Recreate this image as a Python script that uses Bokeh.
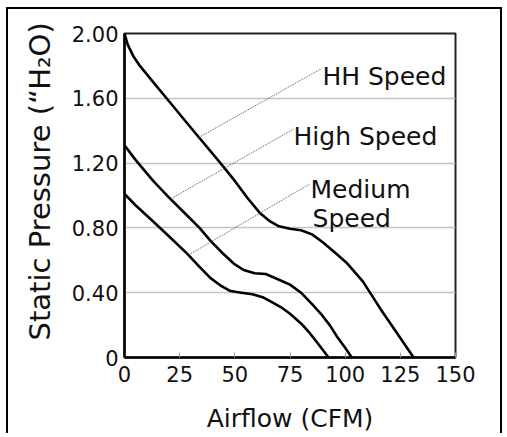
from bokeh.plotting import figure
from bokeh.models import Range1d, FixedTicker, Title
from bokeh.core.properties import value
from bokeh.embed import file_html
from bokeh.resources import INLINE

# ---- data ----
hh_x = [0, 1.5, 4, 7, 13, 20, 30, 43.5, 50, 56, 61.5, 66, 70, 75, 80, 85, 90, 96, 101, 108, 116, 124, 131]
hh_y = [2.00, 1.93, 1.86, 1.80, 1.70, 1.585, 1.42, 1.20, 1.09, 0.98, 0.89, 0.84, 0.81, 0.795, 0.785, 0.76, 0.71, 0.64, 0.58, 0.47, 0.30, 0.14, 0.00]

high_x = [0, 5, 13, 20, 28.5, 34, 39, 44, 49.5, 54, 59, 64, 70, 75, 80, 85, 89, 93, 96.5, 100, 103]
high_y = [1.31, 1.22, 1.09, 0.99, 0.875, 0.80, 0.72, 0.65, 0.58, 0.54, 0.52, 0.515, 0.48, 0.45, 0.40, 0.33, 0.27, 0.20, 0.125, 0.06, 0.00]

med_x = [0, 5, 13, 20, 28.5, 34, 39, 44, 48, 53, 58, 63, 67, 71, 75, 80, 84, 88, 92.5]
med_y = [1.01, 0.94, 0.84, 0.75, 0.64, 0.56, 0.49, 0.44, 0.41, 0.40, 0.39, 0.37, 0.34, 0.31, 0.27, 0.21, 0.15, 0.08, 0.00]

# annotation labels and leader lines
label_text = ["HH Speed", "High Speed", "Medium", "Speed"]
label_x = [89.7, 76.6, 84.3, 85.2]
label_y = [1.735, 1.366, 1.04, 0.855]

lead_x0 = [88.8, 76.6, 83.8]
lead_y0 = [1.78, 1.41, 1.07]
lead_x1 = [33.1, 20.8, 28.5]
lead_y1 = [1.354, 0.978, 0.628]

x_ticks = [0, 25, 50, 75, 100, 125, 150]
y_ticks = [0, 0.4, 0.8, 1.2, 1.6, 2.0]
y_tick_labels = ["0", "0.40", "0.80", "1.20", "1.60", "2.00"]

y_title = "Static Pressure (\u201cH\u2082O)"
x_title = "Airflow (CFM)"

FONT = "DejaVu Sans"

p = figure(width=496, height=426, output_backend="svg", toolbar_location=None,
           x_range=Range1d(0, 150), y_range=Range1d(0, 2.0),
           min_border_left=116, min_border_right=49, min_border_top=24, min_border_bottom=78,
           styles={"margin": "7px 0px 0px 6px",
                   "border-left": "2px solid black", "border-top": "2px solid black",
                   "border-right": "2px solid black"})

p.background_fill_color = "white"
p.border_fill_color = "white"
p.outline_line_color = "#222222"
p.outline_line_width = 2
p.outline_line_alpha = 1

# grid
p.xgrid.visible = False
p.ygrid.ticker = FixedTicker(ticks=y_ticks)
p.ygrid.grid_line_color = "#c4c4c4"
p.ygrid.grid_line_width = 1.5

# axes
p.xaxis.ticker = FixedTicker(ticks=x_ticks)
p.yaxis.ticker = FixedTicker(ticks=y_ticks)
p.yaxis.major_label_overrides = {t: s for t, s in zip(y_ticks, y_tick_labels)}

for ax in (p.xaxis, p.yaxis):
    ax.axis_line_color = "black"
    ax.axis_line_width = 2.5
    ax.minor_tick_line_color = None
    ax.major_label_text_font = FONT
    ax.major_label_text_color = "#111111"
    ax.axis_label_text_font = FONT
    ax.axis_label_text_font_style = "normal"
    ax.axis_label_text_color = "#111111"

p.xaxis.major_tick_in = 5
p.xaxis.major_tick_out = 0
p.xaxis.major_tick_line_color = "#999999"
p.xaxis.major_tick_line_width = 1
p.xaxis.major_label_text_font_size = "21px"
p.xaxis.major_label_standoff = 8
p.xaxis.axis_label = x_title
p.xaxis.axis_label_text_font_size = "25px"
p.xaxis.axis_label_standoff = 19

p.yaxis.major_tick_in = 0
p.yaxis.major_tick_out = 0
p.yaxis.major_label_text_font_size = "21px"
p.yaxis.major_label_standoff = 6

# y title as a side title, starting a little above the frame bottom as in the reference
p.add_layout(Title(text=y_title, align="left", offset=17, standoff=20,
                   vertical_align="top",
                   text_font=FONT, text_font_size="29px", text_font_style="normal",
                   text_color="#111111"), "left")

# curves
p.line(hh_x, hh_y, line_color="black", line_width=2.6, line_join="round")
p.line(high_x, high_y, line_color="black", line_width=2.6, line_join="round")
p.line(med_x, med_y, line_color="black", line_width=2.6, line_join="round")

# leader lines
p.segment(x0=lead_x0, y0=lead_y0, x1=lead_x1, y1=lead_y1,
          line_color="#555555", line_width=1, line_dash="1 1")

# labels
p.text(x=label_x, y=label_y, text=label_text, text_font=value(FONT),
       text_font_size="25px", text_baseline="alphabetic", text_align="left",
       text_color="#111111")

open("out.html", "w").write(file_html(p, INLINE))
